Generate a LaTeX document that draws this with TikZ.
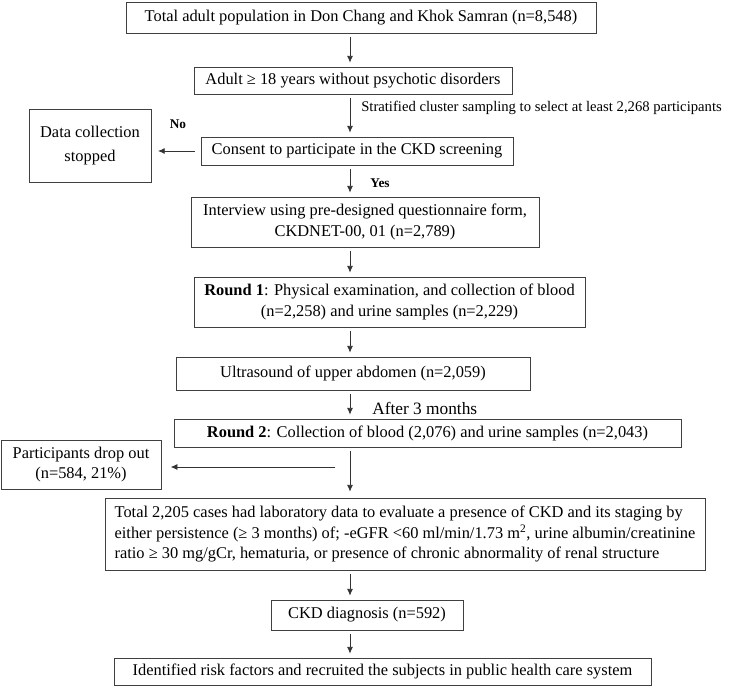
\documentclass[tikz,border=0pt]{standalone}
\usepackage{fontspec}
\setmainfont{Liberation Serif}
\usetikzlibrary{arrows.meta}

\begin{document}
\begin{tikzpicture}[x=0.75pt,y=0.75pt,yscale=-1,xscale=1,
		box/.style={draw=black!75, line width=0.6pt, inner sep=0pt, align=center, font=\fontsize{12.3}{15.5}\selectfont},
		arr/.style={draw=black!80, line width=0.6pt, -{Latex[length=5pt,width=4.5pt]}, shorten <=3pt, shorten >=3pt},
		lbl/.style={inner sep=0pt, font=\fontsize{12.3}{15}\selectfont},
		yn/.style={inner sep=0pt, font=\fontsize{10}{12}\selectfont\bfseries}]
		%picture is 729 x 689
		\useasboundingbox (0,0) rectangle (729,689);
		\coordinate (spine) at (350,0);
		
		\node [box, minimum width=352.5pt, minimum height=23.25pt] (pop) at (361,17.5) {Total adult population in Don Chang and Khok Samran (n=8,548)};
		\node [box, minimum width=238.5pt, minimum height=20.25pt] (adult) at (353,80.5) {Adult ≥ 18 years without psychotic disorders};
		\node [box, minimum width=234pt, minimum height=21pt] (consent) at (357,151) {Consent to participate in the CKD screening};
		\node [box, minimum width=91.5pt, minimum height=54.75pt] (stop) at (90,145.5) {Data collection\\[2pt]stopped};
		\node [box, minimum width=261pt, minimum height=37.5pt] (interview) at (365,222) {Interview using pre-designed questionnaire form,\\CKDNET-00, 01 (n=2,789)};
		\node [box, minimum width=293.25pt, minimum height=37.5pt] (round1) at (389.5,302) {\textbf{Round 1}: Physical examination, and collection of blood\\(n=2,258) and urine samples (n=2,229)};
		\node [box, minimum width=265.5pt, minimum height=24.75pt] (ultra) at (353,373.5) {Ultrasound of upper abdomen (n=2,059)};
		\node [box, minimum width=380.25pt, minimum height=21pt] (round2) at (427.5,433) {\textbf{Round 2}: Collection of blood (2,076) and urine samples (n=2,043)};
		\node [box, minimum width=120pt, minimum height=36.75pt] (drop) at (81,464.5) {Participants drop out\\(n=584, 21\%)};
		\node [box, align=left, minimum width=450pt, minimum height=54pt] (total) at (405,534) {Total 2,205 cases had laboratory data to evaluate a presence of CKD and its staging by\\either persistence (≥ 3 months) of; -eGFR <60 ml/min/1.73 m\textsuperscript{2}, urine albumin/creatinine\\ratio ≥ 30 mg/gCr, hematuria, or presence of chronic abnormality of renal structure};
		\node [box, minimum width=144pt, minimum height=22.5pt] (ckd) at (367,615) {CKD diagnosis (n=592)};
		\node [box, minimum width=402.75pt, minimum height=20.25pt] (ident) at (382.5,671.5) {Identified risk factors and recruited the subjects in public health care system};
		
		\node [lbl, anchor=west, font=\fontsize{11}{13}\selectfont] (strat) at (361,108) {Stratified cluster sampling to select at least 2,268 participants};
		\node [yn] (no) at (178,124) {No};
		\node [yn] (yes) at (380,183) {Yes};
		\node [lbl, anchor=west, font=\fontsize{13}{15}\selectfont] (after) at (372,408) {After 3 months};
		
		\draw [arr] (pop.south -| spine) -- (adult.north -| spine);
		\draw [arr] (adult.south -| spine) -- (consent.north -| spine);
		\draw [arr, shorten <=4.5pt, shorten >=5pt] (consent.west) -- (stop.east |- consent.west);
		\draw [arr] (consent.south -| spine) -- (interview.north -| spine);
		\draw [arr] (interview.south -| spine) -- (round1.north -| spine);
		\draw [arr] (round1.south -| spine) -- (ultra.north -| spine);
		\draw [arr] (ultra.south -| spine) -- (round2.north -| spine);
		\draw [arr, shorten >=4.5pt] (round2.south -| spine) -- (total.north -| spine);
		\coordinate (fork) at (335,467);
		\draw [arr, shorten <=0pt, shorten >=7pt] (fork) -- (drop.east |- fork);
		\draw [arr] (total.south -| spine) -- (ckd.north -| spine);
		\draw [arr] (ckd.south -| spine) -- (ident.north -| spine);
		
\end{tikzpicture}
\end{document}
